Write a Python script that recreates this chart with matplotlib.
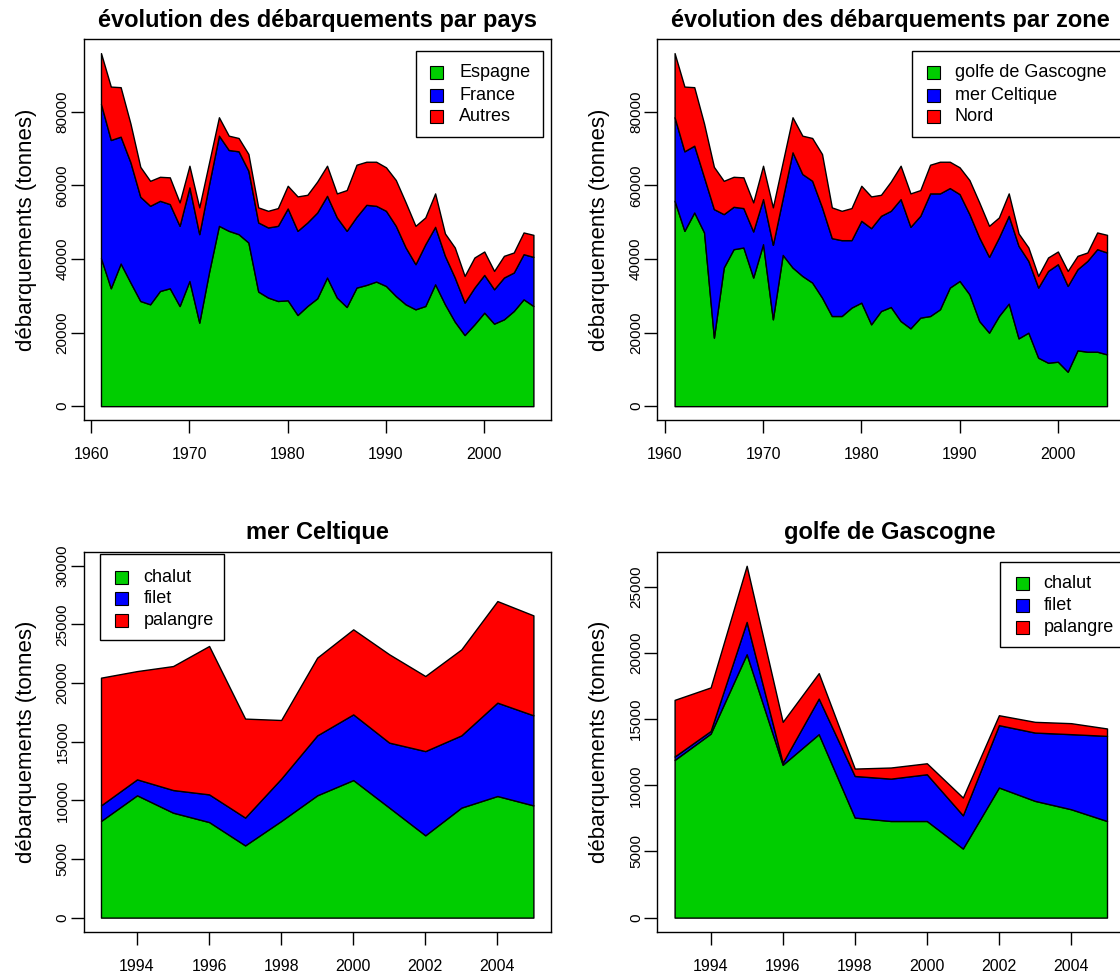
import matplotlib
matplotlib.use('Agg')
import matplotlib.pyplot as plt
from matplotlib.patches import Rectangle
import numpy as np

plt.rcParams['font.family'] = ['Liberation Sans', 'DejaVu Sans']

W, H = 1120, 973

# ---------------- data ----------------
years_long = list(range(1961, 2006))
years_short = list(range(1993, 2006))

# panel 1 : by country (tonnes)
espagne = [40190, 32030, 38750, 33580, 28570, 27670, 31290, 32030, 27210, 34010,
           22690, 36500, 48980, 47620, 46720, 44460, 31130, 29500, 28570, 28760,
           24760, 27210, 29300, 34940, 29500, 26940, 32210, 32930, 33850, 32650,
           29930, 27670, 26310, 27210, 33110, 27670, 22960, 19320, 22230, 25410,
           22420, 23590, 25850, 29030, 27210]
france = [41900, 40270, 34450, 32650, 28300, 26750, 24490, 22850, 21770, 25420,
          24030, 23830, 24490, 21960, 22500, 19490, 18770, 19040, 20410, 24950,
          22860, 22690, 23300, 22200, 21760, 20680, 19220, 21760, 20570, 20410,
          19050, 15430, 12250, 16770, 15600, 13160, 11980, 8810, 9980, 10240,
          9330, 11350, 10450, 12250, 13340]
autres = [13800, 14500, 13440, 10500, 8130, 6780, 6520, 7270, 6360, 5870,
          7270, 5900, 5000, 3890, 3620, 4540, 4090, 4520, 4820, 6150,
          9350, 7510, 8400, 8160, 6530, 11070, 14150, 11700, 11970, 11810,
          12440, 12240, 10420, 7280, 9080, 6080, 8160, 7240, 8170, 6360,
          4980, 5890, 5440, 5900, 5980]

# panel 2 : by zone (tonnes)
gascogne = [55780, 47620, 52620, 47180, 18610, 37660, 42640, 43100, 34940, 44000,
            23590, 41090, 37660, 35370, 33580, 29500, 24490, 24490, 26770, 28130,
            22230, 25850, 26940, 23130, 21140, 24050, 24490, 26310, 32210, 34010,
            30390, 23130, 19970, 24490, 27860, 18420, 19970, 13170, 11810, 12080,
            9360, 15160, 14800, 14800, 14070]
celtique = [22690, 21600, 18130, 14970, 34910, 14500, 11510, 10700, 12510, 12240,
            20220, 15340, 31290, 27680, 27640, 24490, 21140, 20600, 18320, 22210,
            26120, 25850, 26120, 33110, 27570, 27650, 33300, 31480, 27030, 23590,
            21770, 22690, 20580, 21330, 23840, 25120, 19480, 19040, 24920, 26480,
            23290, 22040, 24650, 27840, 27670]
nord = [17420, 17580, 15890, 14580, 11480, 9040, 8150, 8350, 7890, 9060,
        10180, 9800, 9520, 10420, 11620, 14500, 8360, 7970, 8710, 9520,
        8620, 5710, 7940, 9060, 9080, 6990, 7790, 8600, 7150, 7270,
        9260, 9520, 8430, 5440, 6090, 3370, 3650, 3160, 3650, 3450,
        4080, 3630, 2290, 4540, 4790]

# panel 3 : mer Celtique by gear
celt_chalut = [8240, 10430, 8950, 8150, 6160, 8240, 10430, 11730, 9380, 7020, 9380, 10370, 9570]
celt_filet = [1330, 1360, 1930, 2360, 2370, 3610, 5110, 5600, 5540, 7180, 6160, 7960, 7680]
celt_palangre = [10890, 9230, 10570, 12650, 8440, 5000, 6630, 7250, 7530, 6400, 7330, 8660, 8520]

# panel 4 : golfe de Gascogne by gear
gasc_chalut = [11910, 13900, 19900, 11550, 13860, 7560, 7300, 7300, 5220, 9830, 8820, 8190, 7300]
gasc_filet = [260, 200, 2440, 150, 2690, 3140, 3200, 3530, 2510, 4710, 5160, 5670, 6430]
gasc_palangre = [4280, 3290, 4240, 3090, 1920, 560, 840, 830, 1340, 750, 810, 830, 560]

colors = ['#00CD00', '#0000FF', '#FF0000']

titles = ["évolution des débarquements par pays", "évolution des débarquements par zone",
          "mer Celtique", "golfe de Gascogne"]
legend_labels = [["Espagne", "France", "Autres"],
                 ["golfe de Gascogne", "mer Celtique", "Nord"],
                 ["chalut", "filet", "palangre"],
                 ["chalut", "filet", "palangre"]]
ylabel = "débarquements (tonnes)"

xticks_long = [1960, 1970, 1980, 1990, 2000]
xticks_short = [1994, 1996, 1998, 2000, 2002, 2004]
yticks_top = [0, 20000, 40000, 60000, 80000]
yticks_celt = [0, 5000, 10000, 15000, 20000, 25000, 30000]
yticks_gasc = [0, 5000, 10000, 15000, 20000, 25000]

# ---------------- layout (pixels) ----------------
fig = plt.figure(figsize=(W / 100, H / 100), dpi=100)


def axrect(l, t, r, b):
    return [l / W, 1 - b / H, (r - l) / W, (b - t) / H]


def fx(px):
    return px / W


def fy(py):
    return 1 - py / H


panels = [
    dict(rect=(83.7, 39, 550.7, 420.3), x=years_long, series=[espagne, france, autres],
         xticks=xticks_long, yticks=yticks_top, ytop=None,
         title_xy=(317, 20), ylab_x=27,
         leg=dict(box=(416, 50.7, 543.3, 136.7), sq=430, tx=459.3, rows=(72.7, 95, 116.7))),
    dict(rect=(657.3, 39, 1124.3, 420.3), x=years_long, series=[gascogne, celtique, nord],
         xticks=xticks_long, yticks=yticks_top, ytop=None,
         title_xy=(890, 20), ylab_x=600,
         leg=dict(box=(911.7, 50.7, 1135, 136.7), sq=926.7, tx=955, rows=(72.7, 95, 116.7))),
    dict(rect=(83.7, 551.7, 550.7, 931.7), x=years_short,
         series=[celt_chalut, celt_filet, celt_palangre],
         xticks=xticks_short, yticks=yticks_celt, ytop=30000,
         title_xy=(317, 533), ylab_x=27,
         leg=dict(box=(100, 554, 224.3, 640), sq=115, tx=143.3, rows=(577.3, 598.7, 620.7))),
    dict(rect=(657.3, 551.7, 1124.3, 931.7), x=years_short,
         series=[gasc_chalut, gasc_filet, gasc_palangre],
         xticks=xticks_short, yticks=yticks_gasc, ytop=None,
         title_xy=(890, 533), ylab_x=600,
         leg=dict(box=(1000, 561.7, 1135, 646.7), sq=1016, tx=1043.3, rows=(583.3, 605.3, 627.3))),
]

for i, p in enumerate(panels):
    l, t, r, b = p['rect']
    ax = fig.add_axes(axrect(l, t, r, b))
    x = np.array(p['x'], dtype=float)
    s = [np.array(v, dtype=float) for v in p['series']]
    cum = np.cumsum(s, axis=0)
    lower = np.zeros_like(x)
    for k in range(3):
        ax.fill_between(x, lower, cum[k], facecolor=colors[k], edgecolor='black',
                        linewidth=1.0, zorder=2 + k * 0.1)
        lower = cum[k]
    ymax = p['ytop'] if p['ytop'] is not None else cum[-1].max()
    xr = x.max() - x.min()
    ax.set_xlim(x.min() - 0.04 * xr, x.max() + 0.04 * xr)
    ax.set_ylim(-0.04 * ymax, 1.04 * ymax)
    ax.set_xticks(p['xticks'])
    ax.set_xticklabels([str(v) for v in p['xticks']], fontsize=11.5)
    ax.set_yticks(p['yticks'])
    ax.set_yticklabels([str(v) for v in p['yticks']], fontsize=11, rotation=90, va='center')
    ax.tick_params(axis='both', direction='out', length=9.5, width=1.0, color='black')
    ax.tick_params(axis='x', pad=10)
    ax.tick_params(axis='y', pad=0.8)
    for sp in ax.spines.values():
        sp.set_linewidth(1.0)
        sp.set_color('black')
    ax.set_facecolor('white')

    fig.text(fx(p['title_xy'][0]), fy(p['title_xy'][1]), titles[i], ha='center', va='center',
             fontsize=17, fontweight='bold')
    fig.text(fx(p['ylab_x']), fy((t + b) / 2), ylabel, rotation=90, ha='center', va='center',
             fontsize=16)

    lg = p['leg']
    bl, bt, br, bb = lg['box']
    fig.add_artist(Rectangle((fx(bl), fy(bb)), fx(br) - fx(bl), fy(bt) - fy(bb),
                             transform=fig.transFigure, facecolor='white', edgecolor='black',
                             linewidth=1.0, zorder=5))
    for k in range(3):
        ry = lg['rows'][k]
        fig.add_artist(Rectangle((fx(lg['sq']), fy(ry + 6.5)), 13 / W, 13 / H,
                                 transform=fig.transFigure, facecolor=colors[k],
                                 edgecolor='black', linewidth=0.8, zorder=6))
        fig.text(fx(lg['tx']), fy(ry), legend_labels[i][k], ha='left', va='center',
                 fontsize=13, zorder=7)

fig.savefig('out.png', dpi=100)
